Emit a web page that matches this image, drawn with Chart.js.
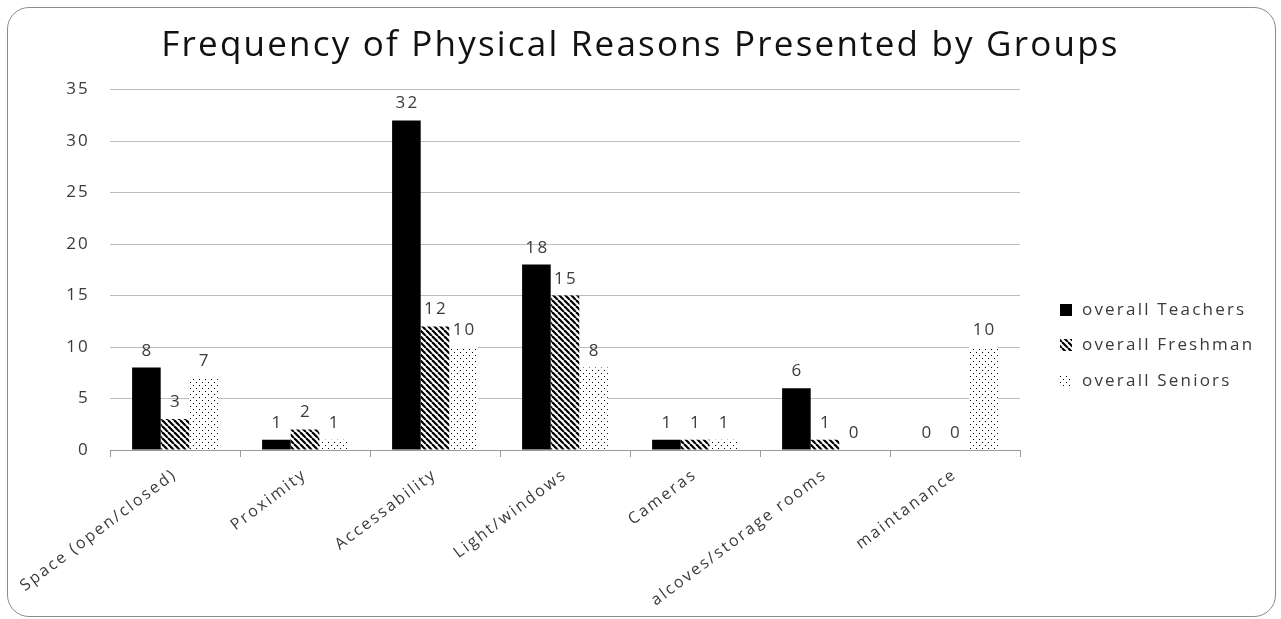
<!DOCTYPE html>
<html>
<head>
<meta charset="utf-8">
<script src="https://cdn.jsdelivr.net/npm/chart.js@4/dist/chart.umd.min.js"></script>
<style>
  html, body { margin: 0; padding: 0; background: #ffffff; }
  #wrap { position: relative; width: 1281px; height: 619px; }
  #frame {
    position: absolute; left: 7px; top: 7px; width: 1269px; height: 610px;
    border: 1.5px solid #8c8c8c; border-radius: 22px; box-sizing: border-box;
    pointer-events: none;
  }
  canvas { position: absolute; left: 0; top: 0; }
</style>
</head>
<body>
<div id="wrap">
  <canvas id="chart" width="1281" height="619"></canvas>
  <div id="frame"></div>
</div>
<script>
// Reasons and counts per group
const categories = ['Space (open/closed)', 'Proximity', 'Accessability', 'Light/windows', 'Cameras', 'alcoves/storage rooms', 'maintanance'];
const teachers = [8, 1, 32, 18, 1, 6, 0];
const freshman = [3, 2, 12, 15, 1, 1, 0];
const seniors = [7, 1, 10, 8, 1, 0, 10];
const seriesNames = ['overall Teachers', 'overall Freshman', 'overall Seniors'];
const yMax = 35;
const yStep = 5;

const FONT = "'Open Sans', sans-serif";
const TEXT = '#3a3a3a';
const SPACING = '2.2px';

// Diagonal hatch fill
function hatchPattern() {
  const c = document.createElement('canvas');
  c.width = 6; c.height = 6;
  const g = c.getContext('2d');
  g.fillStyle = '#ffffff'; g.fillRect(0, 0, 6, 6);
  g.strokeStyle = '#000000'; g.lineWidth = 2.2;
  for (const k of [-6, 0, 6]) {
    g.beginPath(); g.moveTo(k, 0); g.lineTo(k + 6, 6); g.stroke();
  }
  return g.createPattern(c, 'repeat');
}
// Sparse dot fill
function dotPattern() {
  const c = document.createElement('canvas');
  c.width = 6; c.height = 6;
  const g = c.getContext('2d');
  g.fillStyle = '#ffffff'; g.fillRect(0, 0, 6, 6);
  g.fillStyle = '#000000';
  g.fillRect(1, 1, 1, 1);
  g.fillRect(4, 4, 1, 1);
  return g.createPattern(c, 'repeat');
}

const fills = ['#000000', hatchPattern(), dotPattern()];

// Wide letter spacing for all chart text
const wideText = {
  id: 'wideText',
  beforeUpdate(chart) { chart.ctx.letterSpacing = SPACING; },
  beforeDraw(chart) { chart.ctx.letterSpacing = SPACING; }
};

// Numbers above each bar
const valueLabels = {
  id: 'valueLabels',
  afterDatasetsDraw(chart) {
    const ctx = chart.ctx;
    ctx.save();
    ctx.font = '17px ' + FONT;
    ctx.fillStyle = TEXT;
    ctx.textAlign = 'center';
    ctx.textBaseline = 'alphabetic';
    chart.data.datasets.forEach((ds, i) => {
      chart.getDatasetMeta(i).data.forEach((bar, j) => {
        ctx.fillText(String(ds.data[j]), bar.x + 1, bar.y - 12);
      });
    });
    ctx.restore();
  }
};

// Legend column on the right
const sideLegend = {
  id: 'sideLegend',
  afterDraw(chart) {
    const ctx = chart.ctx;
    const x = 1060, ys = [310, 345, 381];
    ctx.save();
    ctx.font = '17px ' + FONT;
    ctx.textBaseline = 'middle';
    chart.data.datasets.forEach((ds, i) => {
      ctx.fillStyle = ds.backgroundColor;
      ctx.fillRect(x, ys[i] - 6, 12, 12);
      ctx.fillStyle = TEXT;
      ctx.fillText(ds.label, x + 22, ys[i]);
    });
    ctx.restore();
  }
};

new Chart(document.getElementById('chart'), {
  type: 'bar',
  data: {
    labels: categories,
    datasets: [
      { label: seriesNames[0], data: teachers, backgroundColor: fills[0] },
      { label: seriesNames[1], data: freshman, backgroundColor: fills[1] },
      { label: seriesNames[2], data: seniors, backgroundColor: fills[2] }
    ]
  },
  options: {
    responsive: false,
    animation: false,
    devicePixelRatio: 1,
    layout: { padding: 0 },
    categoryPercentage: 0.66,
    barPercentage: 1.0,
    plugins: {
      legend: { display: false },
      tooltip: { enabled: false },
      title: {
        display: true,
        text: 'Frequency of Physical Reasons Presented by Groups',
        color: '#111111',
        font: { family: FONT, size: 35, weight: 'normal' },
        padding: { top: 25.5, bottom: 22 }
      }
    },
    scales: {
      x: {
        grid: { display: true, offset: true, drawOnChartArea: false, drawTicks: true, tickLength: 7, color: '#9a9a9a' },
        border: { display: true, color: '#9a9a9a', width: 1 },
        ticks: { color: TEXT, font: { family: FONT, size: 16 }, minRotation: 37, maxRotation: 37, padding: 8 },
        afterFit(s) { s.height = 169; }
      },
      y: {
        min: 0, max: yMax,
        grid: { color: '#bdbdbd', drawTicks: false },
        border: { display: false },
        ticks: { stepSize: yStep, color: TEXT, font: { family: FONT, size: 17 }, padding: 20 },
        afterFit(s) { s.width = 110; }
      },
      side: {
        position: 'right',
        display: true,
        grid: { display: false },
        border: { display: false },
        ticks: { display: false },
        afterFit(s) { s.width = 261; }
      }
    }
  },
  plugins: [wideText, valueLabels, sideLegend]
});
</script>
</body>
</html>
